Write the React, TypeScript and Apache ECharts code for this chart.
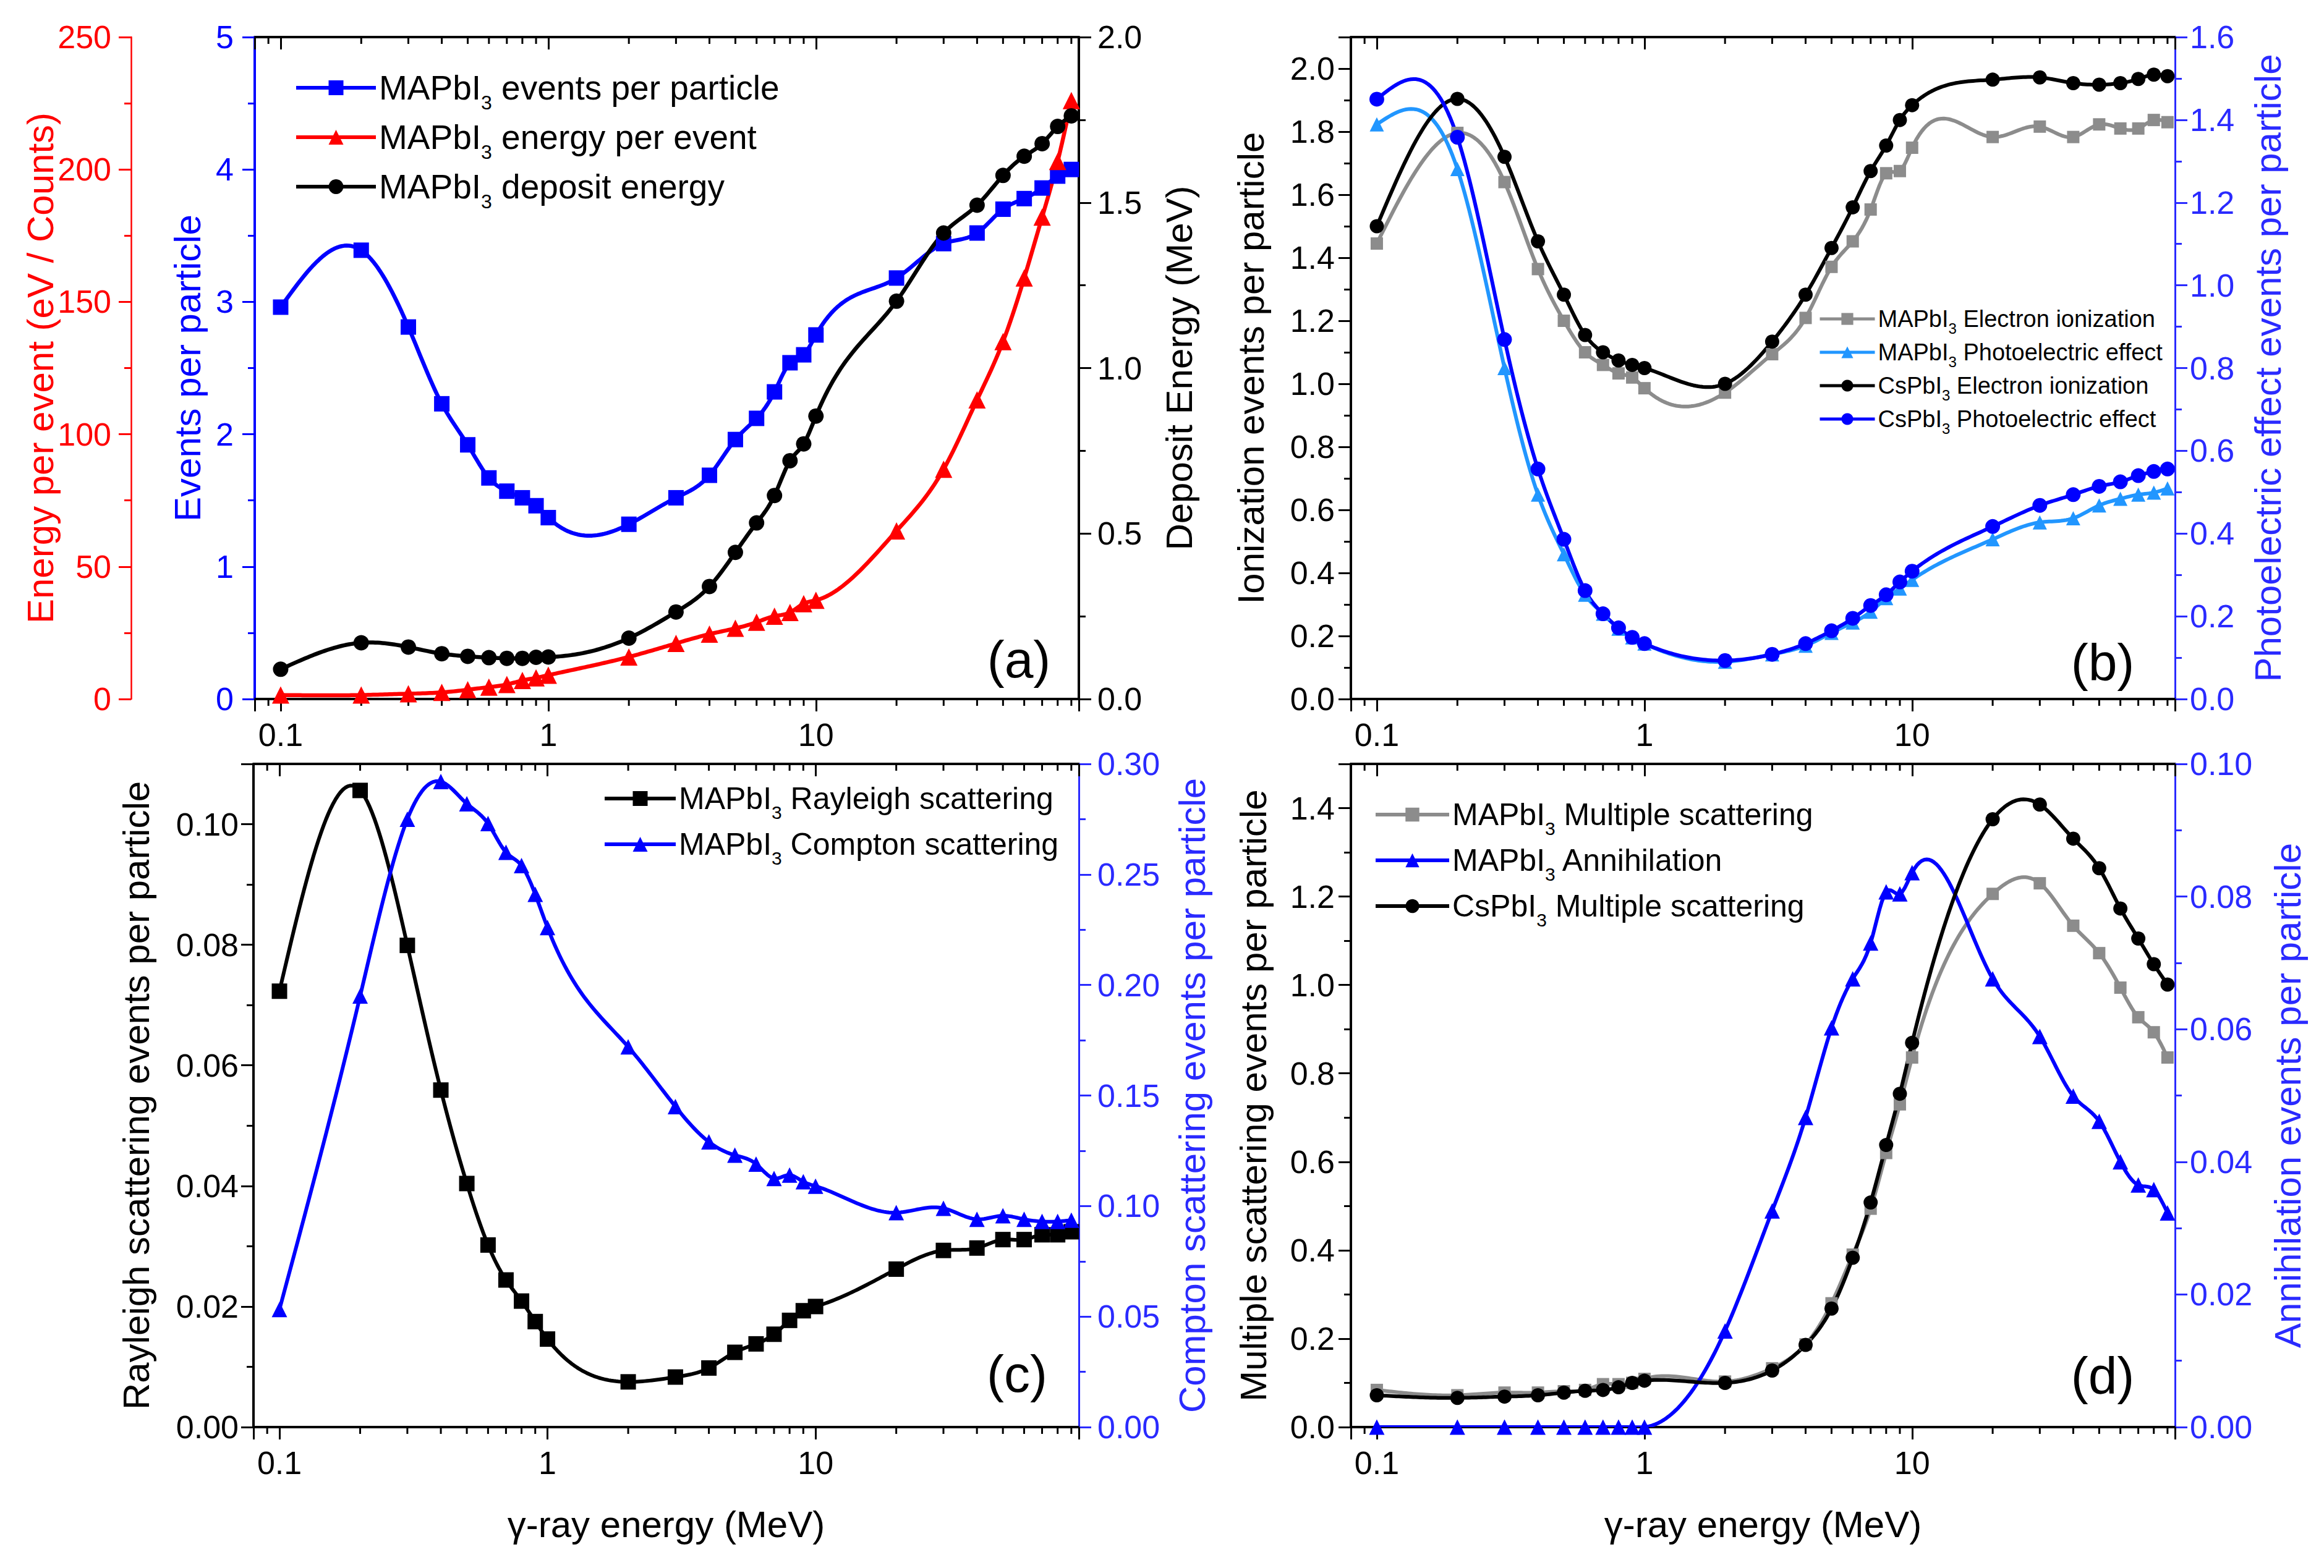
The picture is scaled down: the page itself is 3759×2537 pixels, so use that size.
import * as echarts from 'echarts';
import { useEffect, useRef } from 'react';

// gamma-ray energies (MeV) shared by every panel
const ENERGY = [0.1, 0.2, 0.3, 0.4, 0.5, 0.6, 0.7, 0.8, 0.9, 1, 2, 3, 4, 5, 6, 7, 8, 9, 10, 20, 30, 40, 50, 60, 70, 80, 90];
// log-axis minor tick positions
const MINOR_TICKS = [0.09, 0.2, 0.3, 0.4, 0.5, 0.6, 0.7, 0.8, 0.9, 2, 3, 4, 5, 6, 7, 8, 9, 20, 30, 40, 50, 60, 70, 80, 90];
const X_MIN = 0.08;
const X_MAX = 96;

// (a)
const A_EVENTS = [2.96, 3.39, 2.81, 2.23, 1.92, 1.67, 1.57, 1.52, 1.46, 1.37, 1.32, 1.52, 1.69, 1.96, 2.12, 2.32, 2.54, 2.6, 2.75, 3.18, 3.44, 3.52, 3.7, 3.78, 3.86, 3.95, 4.0];
const A_ENERGY_PER_EVENT = [1.5, 1.5, 2, 2.5, 3.5, 4.5, 5.5, 7, 8, 9, 15.9, 21, 24.5, 26.7, 29, 31.3, 32.7, 36, 37.3, 63.5, 86.8, 113, 135, 159, 182, 203, 226];
const A_DEPOSIT = [0.09, 0.17, 0.157, 0.137, 0.129, 0.125, 0.123, 0.123, 0.126, 0.127, 0.184, 0.263, 0.34, 0.443, 0.532, 0.615, 0.72, 0.771, 0.855, 1.202, 1.408, 1.492, 1.582, 1.64, 1.678, 1.73, 1.762];

// (b)
const B_MA_ION = [1.445, 1.796, 1.64, 1.364, 1.2, 1.1, 1.06, 1.033, 1.02, 0.986, 0.972, 1.094, 1.209, 1.371, 1.452, 1.553, 1.668, 1.675, 1.749, 1.783, 1.816, 1.783, 1.823, 1.81, 1.81, 1.837, 1.83];
const B_MA_PHOTO = [1.389, 1.281, 0.8, 0.494, 0.35, 0.252, 0.206, 0.17, 0.149, 0.134, 0.09, 0.108, 0.129, 0.16, 0.185, 0.211, 0.244, 0.267, 0.288, 0.386, 0.427, 0.437, 0.468, 0.484, 0.494, 0.499, 0.509];
const B_CS_ION = [1.5, 1.904, 1.72, 1.452, 1.283, 1.155, 1.1, 1.074, 1.06, 1.05, 1.0, 1.134, 1.283, 1.431, 1.56, 1.675, 1.756, 1.837, 1.884, 1.965, 1.972, 1.954, 1.949, 1.954, 1.967, 1.981, 1.976];
const B_CS_PHOTO = [1.45, 1.358, 0.869, 0.556, 0.386, 0.262, 0.206, 0.172, 0.149, 0.134, 0.093, 0.108, 0.134, 0.165, 0.195, 0.226, 0.252, 0.283, 0.309, 0.417, 0.468, 0.494, 0.514, 0.525, 0.54, 0.55, 0.556];

// (c)
const C_RAYLEIGH = [0.0723, 0.1056, 0.0799, 0.0559, 0.0404, 0.0302, 0.0244, 0.0209, 0.0175, 0.0146, 0.0075, 0.0083, 0.0098, 0.0124, 0.0138, 0.0154, 0.0177, 0.0193, 0.02, 0.0262, 0.0293, 0.0297, 0.0311, 0.0311, 0.0319, 0.0319, 0.0324];
const C_COMPTON = [0.0532, 0.195, 0.275, 0.292, 0.282, 0.273, 0.26, 0.254, 0.241, 0.226, 0.172, 0.145, 0.129, 0.123, 0.119, 0.1125, 0.114, 0.111, 0.109, 0.097, 0.099, 0.094, 0.0956, 0.094, 0.093, 0.093, 0.0936];

// (d)
const D_MA_MULTI = [0.084, 0.072, 0.078, 0.078, 0.081, 0.084, 0.097, 0.097, 0.1, 0.109, 0.103, 0.133, 0.187, 0.28, 0.39, 0.494, 0.62, 0.73, 0.836, 1.206, 1.23, 1.134, 1.072, 0.994, 0.927, 0.893, 0.836];
const D_ANNIHIL = [0, 0, 0, 0, 0, 0, 0, 0, 0, 0, 0.0145, 0.0326, 0.0467, 0.0602, 0.0676, 0.073, 0.0807, 0.0804, 0.0836, 0.0676, 0.0589, 0.0499, 0.0461, 0.04, 0.0365, 0.0358, 0.0323];
const D_CS_MULTI = [0.072, 0.066, 0.069, 0.072, 0.078, 0.082, 0.084, 0.09, 0.1, 0.105, 0.1, 0.128, 0.186, 0.268, 0.383, 0.508, 0.638, 0.754, 0.869, 1.375, 1.408, 1.331, 1.264, 1.173, 1.105, 1.047, 1.001];

const FONT = '"Liberation Sans", Arial, sans-serif';
const BLUE = '#0000ff';
const AXIS_BLUE = '#2a2aff';
const RED = '#ff0000';
const GRAY = '#8c8c8c';
const LIGHT_BLUE = '#2196ff';
const TICK_FONT = 52;

const pairs = (ys: number[]) => ENERGY.map((x, i) => [x, ys[i]]);

const subLegend = (name: string) => name.replace(/^(\w+?)3 (.*)$/, '{n|$1}{s|3}{n| $2}');

const logLabel = (v: number) => {
  const l = Math.log10(v);
  return Math.abs(l - Math.round(l)) < 1e-6 ? String(v) : '';
};

// natural cubic spline through pixel points (x increasing), like Origin's "Spline" connect
const splinePath = (pts: number[][]) => {
  const n = pts.length;
  const x = pts.map((p) => p[0]);
  const y = pts.map((p) => p[1]);
  const h: number[] = [];
  for (let i = 0; i < n - 1; i++) h.push(x[i + 1] - x[i]);
  const m = new Array(n).fill(0);
  const a: number[] = [];
  const b: number[] = [];
  const c: number[] = [];
  const r: number[] = [];
  for (let i = 1; i < n - 1; i++) {
    a.push(h[i - 1]);
    b.push(2 * (h[i - 1] + h[i]));
    c.push(h[i]);
    r.push(6 * ((y[i + 1] - y[i]) / h[i] - (y[i] - y[i - 1]) / h[i - 1]));
  }
  const k = a.length;
  for (let i = 1; i < k; i++) {
    const w = a[i] / b[i - 1];
    b[i] -= w * c[i - 1];
    r[i] -= w * r[i - 1];
  }
  for (let j = k - 1; j >= 0; j--) m[j + 1] = (r[j] - c[j] * m[j + 2]) / b[j];
  const out: number[][] = [];
  for (let i = 0; i < n - 1; i++) {
    const steps = Math.max(4, Math.ceil(h[i] / 4));
    for (let s = 0; s < steps; s++) {
      const t = x[i] + (h[i] * s) / steps;
      const A = x[i + 1] - t;
      const B = t - x[i];
      const v =
        (m[i] * A ** 3 + m[i + 1] * B ** 3) / (6 * h[i]) +
        (y[i] / h[i] - (m[i] * h[i]) / 6) * A +
        (y[i + 1] / h[i] - (m[i + 1] * h[i]) / 6) * B;
      out.push([t, v]);
    }
  }
  out.push(pts[n - 1]);
  return out;
};

const xAxes = (grid: number, name?: string) => [
  {
    type: 'log',
    logBase: 10,
    gridIndex: grid,
    position: 'bottom',
    min: X_MIN,
    max: X_MAX,
    name,
    nameLocation: 'middle',
    nameGap: 127,
    nameTextStyle: { fontFamily: FONT, fontSize: 60, color: '#000' },
    axisLine: { show: true, onZero: false, lineStyle: { color: '#000', width: 4 } },
    axisTick: { show: true, length: 20, lineStyle: { color: '#000', width: 3 } },
    axisLabel: { margin: 32, fontFamily: FONT, fontSize: TICK_FONT, color: '#000', formatter: logLabel },
    splitLine: { show: false },
  },
  {
    type: 'log',
    logBase: 10,
    gridIndex: grid,
    position: 'top',
    min: X_MIN,
    max: X_MAX,
    axisLine: { show: true, onZero: false, lineStyle: { color: '#000', width: 4 } },
    axisTick: { show: true, inside: true, length: 20, lineStyle: { color: '#000', width: 3 } },
    axisLabel: { show: false },
    splitLine: { show: false },
  },
];

interface YOpt {
  grid: number;
  pos: 'left' | 'right';
  max: number;
  interval: number;
  digits: number;
  color: string;
  name: string;
  nameGap: number;
  margin: number;
  offset?: number;
  width?: number;
}

const yAxis = (o: YOpt) => ({
  type: 'value',
  gridIndex: o.grid,
  position: o.pos,
  offset: o.offset ?? 0,
  min: 0,
  max: o.max,
  interval: o.interval,
  name: o.name,
  nameLocation: 'middle',
  nameGap: o.nameGap,
  nameRotate: 90,
  nameMoveOverlap: false,
  nameTextStyle: { fontFamily: FONT, fontSize: 60, color: o.color },
  axisLine: { show: true, onZero: false, lineStyle: { color: o.color, width: o.width ?? 4 } },
  axisTick: { show: true, length: 20, lineStyle: { color: o.color, width: 3 } },
  minorTick: { show: true, splitNumber: 2, length: 11, lineStyle: { color: o.color, width: 3 } },
  axisLabel: {
    margin: o.margin,
    fontFamily: FONT,
    fontSize: TICK_FONT,
    color: o.color,
    formatter: (v: number) => {
      const k = v / o.interval;
      return Math.abs(k - Math.round(k)) < 1e-6 ? v.toFixed(o.digits) : '';
    },
  },
  splitLine: { show: false },
});

// markers (and legend entry); the connecting curve is drawn by the spline series below
const marks = (name: string, x: number, y: number, data: number[], color: string, symbol: string, size: number) => ({
  type: 'line',
  name,
  xAxisIndex: x,
  yAxisIndex: y,
  data: pairs(data),
  symbol,
  symbolSize: size,
  showSymbol: true,
  lineStyle: { color, width: 6, opacity: 0 },
  itemStyle: { color },
  emphasis: { disabled: true },
  z: 4,
});

const curve = (x: number, y: number, data: number[], color: string, width: number) => ({
  type: 'custom',
  coordinateSystem: 'cartesian2d',
  xAxisIndex: x,
  yAxisIndex: y,
  silent: true,
  clip: true,
  z: 3,
  data: [[ENERGY[0], data[0]]],
  renderItem: (_params: any, api: any) => {
    const pts = ENERGY.map((e, i) => api.coord([e, data[i]]));
    return {
      type: 'polyline',
      shape: { points: splinePath(pts) },
      style: { stroke: color, lineWidth: width, fill: 'none', lineJoin: 'round' },
    };
  },
});

const series = (name: string, x: number, y: number, data: number[], color: string, symbol: string, size: number, width = 6) => [
  curve(x, y, data, color, width),
  marks(name, x, y, data, color, symbol, size),
];

// little log-spaced ticks on the bottom (outside) and top (inside) of each panel
const minorTicks = (x: number, y: number) => ({
  type: 'custom',
  coordinateSystem: 'cartesian2d',
  xAxisIndex: x,
  yAxisIndex: y,
  silent: true,
  clip: false,
  data: MINOR_TICKS.map((v) => [v, 0]),
  renderItem: (params: any, api: any) => {
    const px = api.coord([api.value(0), 0])[0];
    const cs = params.coordSys;
    const bottom = cs.y + cs.height;
    const top = cs.y;
    return {
      type: 'group',
      children: [
        { type: 'line', shape: { x1: px, y1: bottom, x2: px, y2: bottom + 11 }, style: { stroke: '#000', lineWidth: 3 } },
        { type: 'line', shape: { x1: px, y1: top, x2: px, y2: top + 11 }, style: { stroke: '#000', lineWidth: 3 } },
      ],
    };
  },
});

const legend = (names: string[], left: number, top: number, itemWidth: number, itemHeight: number, fontSize: number, subSize: number, lineHeight: number, lineWidth: number) => ({
  orient: 'vertical',
  left,
  top,
  itemWidth,
  itemHeight,
  itemGap: 0,
  selectedMode: false,
  data: names,
  formatter: subLegend,
  lineStyle: { width: lineWidth, opacity: 1 },
  textStyle: {
    fontFamily: FONT,
    fontSize,
    lineHeight,
    color: '#000',
    rich: {
      n: { fontFamily: FONT, fontSize, lineHeight, color: '#000' },
      s: { fontFamily: FONT, fontSize: subSize, lineHeight: subSize, verticalAlign: 'bottom', color: '#000' },
    },
  },
});

const panelLabel = (text: string, x: number, y: number) => ({
  type: 'text',
  x,
  y,
  style: { text, font: `84px ${FONT}`, fill: '#000', align: 'center', verticalAlign: 'middle' },
});

const Chart: React.FC = () => {
  const chartRef = useRef<HTMLDivElement | null>(null);

  useEffect(() => {
    if (!chartRef.current) return;
    const chart = echarts.init(chartRef.current, undefined, { renderer: 'svg' });

    const option: any = {
      animation: false,
      backgroundColor: '#fff',
      grid: [
        { left: 412, top: 60, width: 1333, height: 1071 },
        { left: 2185, top: 60, width: 1333, height: 1071 },
        { left: 410, top: 1236, width: 1335, height: 1073 },
        { left: 2185, top: 1236, width: 1333, height: 1073 },
      ].map((g) => ({ ...g, containLabel: false, outerBoundsMode: 'none' })),
      xAxis: [
        ...xAxes(0),
        ...xAxes(1),
        ...xAxes(2, 'γ-ray energy (MeV)'),
        ...xAxes(3, 'γ-ray energy (MeV)'),
      ],
      yAxis: [
        yAxis({ grid: 0, pos: 'left', max: 5, interval: 1, digits: 0, color: BLUE, name: 'Events per particle', nameGap: 79, margin: 34 }),
        yAxis({ grid: 0, pos: 'left', max: 250, interval: 50, digits: 0, color: RED, name: 'Energy per event (eV / Counts)', nameGap: 117, margin: 32, offset: 200, width: 2.5 }),
        yAxis({ grid: 0, pos: 'right', max: 2, interval: 0.5, digits: 1, color: '#000', name: 'Deposit Energy (MeV)', nameGap: 132, margin: 30 }),
        yAxis({ grid: 1, pos: 'left', max: 2.1, interval: 0.2, digits: 1, color: '#000', name: 'Ionization events per particle', nameGap: 132, margin: 26 }),
        yAxis({ grid: 1, pos: 'right', max: 1.6, interval: 0.2, digits: 1, color: AXIS_BLUE, name: 'Photoelectric effect events per particle', nameGap: 120, margin: 24, width: 3 }),
        yAxis({ grid: 2, pos: 'left', max: 0.11, interval: 0.02, digits: 2, color: '#000', name: 'Rayleigh scattering events per particle', nameGap: 160, margin: 24 }),
        yAxis({ grid: 2, pos: 'right', max: 0.3, interval: 0.05, digits: 2, color: AXIS_BLUE, name: 'Compton scattering events per particle', nameGap: 153, margin: 30, width: 3 }),
        yAxis({ grid: 3, pos: 'left', max: 1.5, interval: 0.2, digits: 1, color: '#000', name: 'Multiple scattering events per particle', nameGap: 128, margin: 26 }),
        yAxis({ grid: 3, pos: 'right', max: 0.1, interval: 0.02, digits: 2, color: AXIS_BLUE, name: 'Annihilation events per particle', nameGap: 152, margin: 24, width: 3 }),
      ],
      legend: [
        legend(['MAPbI3 events per particle', 'MAPbI3 energy per event', 'MAPbI3 deposit energy'], 471, 97, 129, 30, 55, 32, 80, 6),
        legend(['MAPbI3 Electron ionization', 'MAPbI3 Photoelectric effect', 'CsPbI3 Electron ionization', 'CsPbI3 Photoelectric effect'], 2936, 484, 89, 24, 38, 24, 54, 5),
        legend(['MAPbI3 Rayleigh scattering', 'MAPbI3 Compton scattering'], 970, 1250, 115, 30, 50, 30, 74, 6),
        legend(['MAPbI3 Multiple scattering', 'MAPbI3 Annihilation', 'CsPbI3 Multiple scattering'], 2217, 1276, 119, 28, 50, 30, 74, 6),
      ],
      series: [
        ...series('MAPbI3 events per particle', 0, 0, A_EVENTS, BLUE, 'rect', 25, 6.5),
        ...series('MAPbI3 energy per event', 0, 1, A_ENERGY_PER_EVENT, RED, 'triangle', 28, 6.5),
        ...series('MAPbI3 deposit energy', 0, 2, A_DEPOSIT, '#000', 'circle', 25, 6.5),

        ...series('MAPbI3 Electron ionization', 2, 3, B_MA_ION, GRAY, 'rect', 20),
        ...series('MAPbI3 Photoelectric effect', 2, 4, B_MA_PHOTO, LIGHT_BLUE, 'triangle', 23),
        ...series('CsPbI3 Electron ionization', 2, 3, B_CS_ION, '#000', 'circle', 23),
        ...series('CsPbI3 Photoelectric effect', 2, 4, B_CS_PHOTO, BLUE, 'circle', 24),

        ...series('MAPbI3 Rayleigh scattering', 4, 5, C_RAYLEIGH, '#000', 'rect', 25),
        ...series('MAPbI3 Compton scattering', 4, 6, C_COMPTON, BLUE, 'triangle', 25),

        ...series('MAPbI3 Multiple scattering', 6, 7, D_MA_MULTI, GRAY, 'rect', 20),
        ...series('MAPbI3 Annihilation', 6, 8, D_ANNIHIL, BLUE, 'triangle', 25),
        ...series('CsPbI3 Multiple scattering', 6, 7, D_CS_MULTI, '#000', 'circle', 23),

        minorTicks(0, 0),
        minorTicks(2, 3),
        minorTicks(4, 5),
        minorTicks(6, 7),
      ],
      graphic: [
        panelLabel('(a)', 1648, 1067),
        panelLabel('(b)', 3401, 1072),
        panelLabel('(c)', 1645, 2223),
        panelLabel('(d)', 3401, 2226),
      ],
    };

    chart.setOption(option);

    return () => {
      chart.dispose();
    };
  }, []);

  return <div ref={chartRef} style={{ position: 'fixed', left: 0, top: 0, width: 3759, height: 2537, background: '#fff' }} />;
};

export default function App() {
  return <Chart />;
}
